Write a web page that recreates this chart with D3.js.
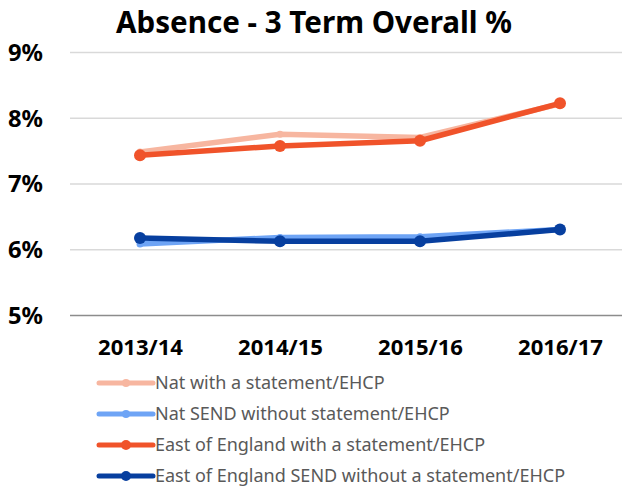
<!DOCTYPE html>
<html>
<head>
<meta charset="utf-8">
<script src="https://cdn.jsdelivr.net/npm/d3@7"></script>
<style>
  body { margin: 0; background: #fff; }
  svg { display: block; }
</style>
</head>
<body>
<div id="chart"></div>
<script>
// ---------- Data ----------
const years = ["2013/14", "2014/15", "2015/16", "2016/17"];
const yTicks = [5, 6, 7, 8, 9];

const natStatement = [7.48, 7.75, 7.70, 8.21];
const natSend = [6.08, 6.18, 6.19, 6.30];
const eoeStatement = [7.43, 7.57, 7.65, 8.22];
const eoeSend = [6.17, 6.12, 6.12, 6.30];

const seriesNames = [
  "Nat with a statement/EHCP",
  "Nat SEND without statement/EHCP",
  "East of England with a statement/EHCP",
  "East of England SEND without a statement/EHCP"
];

const series = [
  { name: seriesNames[0], values: natStatement, color: "#f7b6a0", r: 3.5 },
  { name: seriesNames[1], values: natSend, color: "#6ea4f5", r: 3.5 },
  { name: seriesNames[2], values: eoeStatement, color: "#f0532a", r: 6 },
  { name: seriesNames[3], values: eoeSend, color: "#073f9f", r: 6 }
];

const width = 622, height = 491;
const margin = { top: 52, right: -8, bottom: 176, left: 70 };
const font = "'Noto Sans', 'Open Sans', sans-serif";

const svg = d3.select("#chart").append("svg")
  .attr("width", width)
  .attr("height", height)
  .style("font-family", font);

// shrink/grow a text's font size so it spans roughly the wanted width
function fitWidth(sel, target, base) {
  sel.each(function () {
    const len = this.getComputedTextLength();
    if (len > 0) d3.select(this).style("font-size", (base * target / len).toFixed(2) + "px");
  });
}

const x = d3.scalePoint()
  .domain(years)
  .range([margin.left, width - margin.right])
  .padding(0.5);

const y = d3.scaleLinear()
  .domain([5, 9])
  .range([height - margin.bottom, margin.top]);

// Title
svg.append("text")
  .attr("x", 314)
  .attr("y", 33)
  .attr("text-anchor", "middle")
  .style("font-size", "25px")
  .style("font-weight", "700")
  .style("fill", "#000")
  .text("Absence - 3 Term Overall %")
  .call(fitWidth, 396, 25);

// Gridlines
svg.append("g")
  .selectAll("line")
  .data(yTicks)
  .join("line")
  .attr("x1", margin.left)
  .attr("x2", width)
  .attr("y1", d => y(d) + 0.5)
  .attr("y2", d => y(d) + 0.5)
  .attr("stroke", d => d === 5 ? "#8c8c8c" : "#d9d9d9")
  .attr("stroke-width", 1.5);

// Y axis labels
const yAxis = svg.append("g")
  .attr("transform", `translate(${margin.left - 27},0)`)
  .call(d3.axisLeft(y).tickValues(yTicks).tickFormat(d => d + "%").tickSize(0));
yAxis.select(".domain").remove();
yAxis.selectAll("text")
  .attr("x", 0)
  .attr("dy", "0.35em")
  .style("font-family", font)
  .style("font-size", "22px")
  .style("font-weight", "700")
  .style("fill", "#000")
  .call(fitWidth, 35, 22);

// X axis labels
const xAxis = svg.append("g")
  .attr("transform", `translate(0,${y(5)})`)
  .call(d3.axisBottom(x).tickSize(0));
xAxis.select(".domain").remove();
xAxis.selectAll("text")
  .attr("y", 40)
  .attr("dy", 0)
  .style("font-family", font)
  .style("font-size", "19px")
  .style("font-weight", "700")
  .style("fill", "#000")
  .call(fitWidth, 85, 19);

// Lines
const line = d3.line()
  .x((d, i) => x(years[i]))
  .y(d => y(d));

const gSeries = svg.append("g")
  .selectAll("g")
  .data(series)
  .join("g");

gSeries.append("path")
  .attr("d", d => line(d.values))
  .attr("fill", "none")
  .attr("stroke", d => d.color)
  .attr("stroke-width", 5.5)
  .attr("stroke-linejoin", "round");

gSeries.selectAll("circle")
  .data(d => d.values.map((v, i) => ({ v, i, s: d })))
  .join("circle")
  .attr("cx", d => x(years[d.i]))
  .attr("cy", d => y(d.v))
  .attr("r", d => d.s.r)
  .attr("fill", d => d.s.color);

// Legend
const legend = svg.append("g")
  .selectAll("g")
  .data(series)
  .join("g")
  .attr("transform", (d, i) => `translate(99,${383 + i * 31})`);

legend.append("line")
  .attr("x1", 0)
  .attr("x2", 54)
  .attr("stroke", d => d.color)
  .attr("stroke-width", 5)
  .attr("stroke-linecap", "round");

legend.append("circle")
  .attr("cx", 27)
  .attr("r", d => d.r === 6 ? 5 : 4)
  .attr("fill", d => d.color);

legend.append("text")
  .attr("x", 56)
  .attr("dy", "0.35em")
  .style("font-size", "18px")
  .style("fill", "#595959")
  .text(d => d.name);
</script>
</body>
</html>
